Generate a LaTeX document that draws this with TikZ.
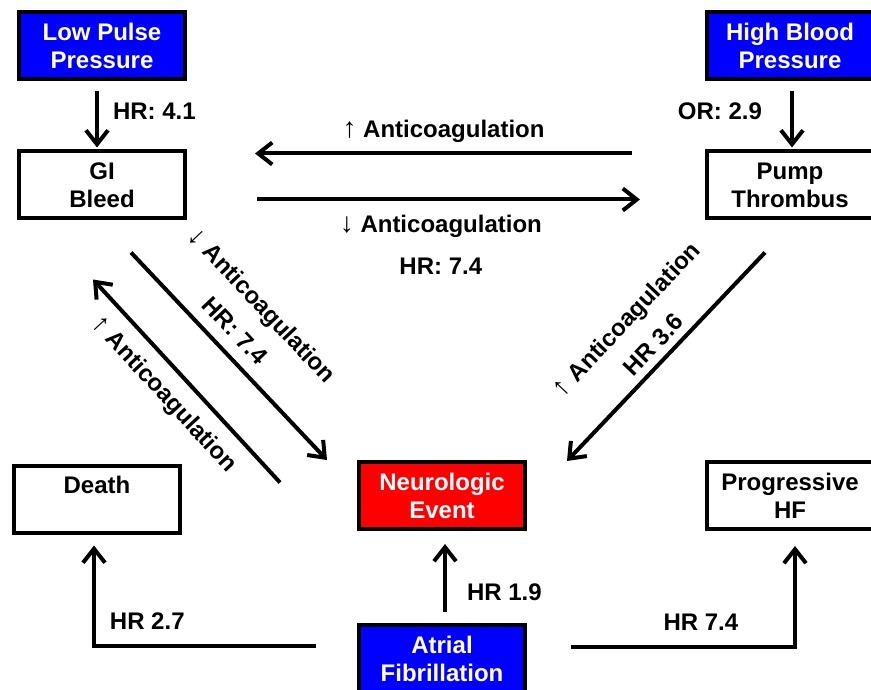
\documentclass[tikz,border=0pt]{standalone}
\usepackage{fontspec}
\setmainfont{Liberation Sans}
\usepackage{tikz}
\usetikzlibrary{positioning,calc,arrows.meta}

\definecolor{boxblue}{RGB}{0,0,255}
\definecolor{boxred}{RGB}{255,0,0}

\newcommand{\uparr}{{\mdseries\fontsize{28}{28}\selectfont ↑}}
\newcommand{\dnarr}{{\mdseries\fontsize{28}{28}\selectfont ↓}}

\begin{document}
\begin{tikzpicture}[x=1pt,y=-1pt]
        \tikzset{every node/.style={font=\fontsize{24}{28}\selectfont\bfseries, inner sep=0pt},
          box/.style={draw, line width=4pt, minimum width=166pt, minimum height=67pt, align=center},
          plainbox/.style={box, fill=white},
          bluebox/.style={box, fill=boxblue, text=white},
          redbox/.style={box, fill=boxred, text=white},
          arr/.style={line width=4pt, -{Straight Barb[length=14pt,width=22pt]}}}

        \useasboundingbox (0,0) rectangle (871,690);

        \node[bluebox] (lpp) at (102,46) {Low Pulse\\Pressure};
        \node[plainbox, below=68pt of lpp] (gi) {GI\\Bleed};
        \node[bluebox] (hbp) at (790,46) {High Blood\\Pressure};
        \node[plainbox, below=68pt of hbp] (pump) {Pump\\Thrombus};
        \node[redbox] (neuro) at (442,495.5) {Neurologic\\Event};
        \node[bluebox, below=92pt of neuro] (af) {Atrial\\Fibrillation};
        \node[plainbox] (death) at (97,499) {Death\\~};
        \node[plainbox] (prog) at (790,495.5) {Progressive\\HF};

        \draw[arr] ([xshift=-5pt,yshift=-10pt]lpp.south) -- node[right=14pt, pos=.36] {HR: 4.1} ([xshift=-5pt,yshift=2pt]gi.north);
        \draw[arr] ([xshift=2pt,yshift=-10pt]hbp.south) -- node[left=28pt, pos=.36] {OR: 2.9} ([xshift=2pt,yshift=2pt]pump.north);

        \draw[arr] ($(pump.north west)+(-73,4)$) -- node[above=9pt] {\uparr\ Anticoagulation} ($(gi.north east)+(68,4)$);
        \draw[arr] ($(gi.south east)+(70,-21)$) -- node[below=14pt, pos=.48, align=center] {\dnarr\ Anticoagulation\\[14pt]HR: 7.4} ($(pump.south west)+(-65,-21)$);

        \draw[arr] ($(gi.south)+(29,32)$) -- node[sloped, above=12pt, pos=.45, align=center] {\dnarr\ Anticoagulation\\[9pt]HR: 7.4} ($(neuro.north west)+(-30,0)$);
        \draw[arr] ($(neuro.west)+(-77,-13)$) -- node[sloped, below=13pt, pos=.52] {\uparr\ Anticoagulation} ($(gi.south)+(-9,59)$);
        \draw[arr] ($(pump.south)+(-25,32)$) -- node[sloped, above=7pt, pos=.5, align=center] {\uparr\ Anticoagulation\\[9pt]HR 3.6} ($(neuro.north east)+(40,1)$);

        \draw[arr] ([xshift=3pt,yshift=11pt]af.north) -- node[right=20pt, pos=.29] {HR 1.9} ([xshift=3pt,yshift=-13pt]neuro.south);
        \draw[arr] ($(af.west)+(-41,-13)$) -| node[above=14pt, pos=.38] {HR 2.7} ($(death.south)+(-3,11)$);
        \draw[arr] ($(af.east)+(44,-12)$) -| node[above=14pt, pos=.29] {HR 7.4} ($(prog.south)+(5,15)$);
\end{tikzpicture}
\end{document}
